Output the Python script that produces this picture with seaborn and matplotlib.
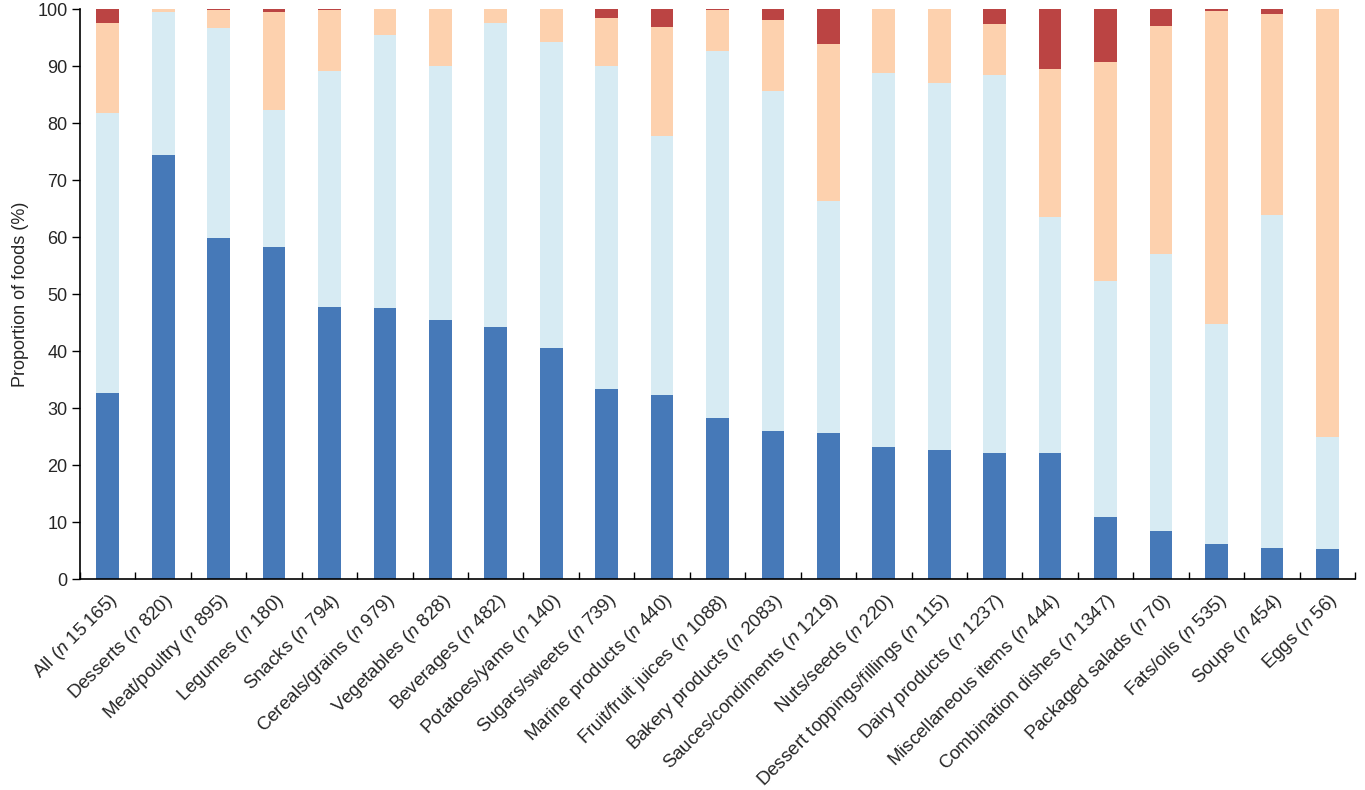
import matplotlib
matplotlib.use("Agg")
import matplotlib.pyplot as plt
import seaborn as sns
import numpy as np
import pandas as pd

categories = [
    "All ($\\it{n}$ 15\u2009165)", "Desserts ($\\it{n}$ 820)", "Meat/poultry ($\\it{n}$ 895)",
    "Legumes ($\\it{n}$ 180)", "Snacks ($\\it{n}$ 794)", "Cereals/grains ($\\it{n}$ 979)",
    "Vegetables ($\\it{n}$ 828)", "Beverages ($\\it{n}$ 482)", "Potatoes/yams ($\\it{n}$ 140)",
    "Sugars/sweets ($\\it{n}$ 739)", "Marine products ($\\it{n}$ 440)", "Fruit/fruit juices ($\\it{n}$ 1088)",
    "Bakery products ($\\it{n}$ 2083)", "Sauces/condiments ($\\it{n}$ 1219)", "Nuts/seeds ($\\it{n}$ 220)",
    "Dessert toppings/fillings ($\\it{n}$ 115)", "Dairy products ($\\it{n}$ 1237)",
    "Miscellaneous items ($\\it{n}$ 444)", "Combination dishes ($\\it{n}$ 1347)",
    "Packaged salads ($\\it{n}$ 70)", "Fats/oils ($\\it{n}$ 535)", "Soups ($\\it{n}$ 454)", "Eggs ($\\it{n}$ 56)",
]
seg_dark_blue = [32.7, 74.4, 59.8, 58.2, 47.8, 47.6, 45.5, 44.2, 40.6, 33.4, 32.3, 28.3,
                 25.9, 25.6, 23.2, 22.6, 22.2, 22.2, 10.9, 8.4, 6.1, 5.4, 5.2]
seg_light_blue = [49.0, 25.1, 36.9, 24.1, 41.3, 47.9, 44.6, 53.3, 53.6, 56.7, 45.5, 64.3,
                  59.8, 40.8, 65.5, 64.5, 66.3, 41.3, 41.4, 48.7, 38.7, 58.5, 19.8]
seg_peach = [15.9, 0.5, 3.1, 17.2, 10.8, 4.5, 9.9, 2.5, 5.8, 8.3, 19.1, 7.3,
             12.3, 27.4, 11.3, 12.9, 8.9, 26.0, 38.5, 40.0, 54.9, 35.2, 75.0]
seg_red = [2.4, 0.0, 0.2, 0.5, 0.1, 0.0, 0.0, 0.0, 0.0, 1.6, 3.1, 0.1,
           2.0, 6.2, 0.0, 0.0, 2.6, 10.5, 9.2, 2.9, 0.3, 0.9, 0.0]

colors = ["#4679b8", "#d7ebf3", "#fdd1ae", "#bb4443"]

sns.set_theme(style="white")
plt.rcParams["font.family"] = ["Liberation Sans", "DejaVu Sans"]
plt.rcParams["mathtext.fontset"] = "custom"
plt.rcParams["mathtext.rm"] = "Liberation Sans"
plt.rcParams["mathtext.it"] = "Liberation Sans:italic"

segs = np.array([seg_dark_blue, seg_light_blue, seg_peach, seg_red])
cum = np.cumsum(segs, axis=0)

fig = plt.figure(figsize=(13.65, 7.9), dpi=100)
ax = fig.add_axes([0.0586, 0.267, 0.9341, 0.7215])

# draw from top layer down so lower segments overlay
for level in range(3, -1, -1):
    df = pd.DataFrame({"cat": categories, "val": cum[level]})
    sns.barplot(data=df, x="cat", y="val", order=categories, color=colors[level],
                saturation=1, width=0.41, edgecolor="none", linewidth=0, ax=ax)

ax.set_xlim(-0.5, len(categories) - 0.5)
ax.set_ylim(0, 100)
ax.set_yticks(np.arange(0, 101, 10))
ax.set_ylabel("Proportion of foods (%)", fontsize=13, labelpad=6)
ax.set_xlabel("")
ax.set_xticks(range(len(categories)))
ax.set_xticklabels(categories, rotation=45, ha="right", rotation_mode="anchor", fontsize=13.5)
ax.set_xticks(np.arange(-0.5, len(categories), 1.0), minor=True)
ax.tick_params(axis="x", which="major", length=0, pad=8)
ax.tick_params(axis="x", which="minor", direction="in", length=5, width=1, color="black", bottom=True)
ax.tick_params(axis="y", which="major", direction="out", length=5.5, width=1, color="black", left=True, labelsize=13)
for s in ["top", "right"]:
    ax.spines[s].set_visible(False)
for s in ["left", "bottom"]:
    ax.spines[s].set_color("black")
    ax.spines[s].set_linewidth(1.2)

fig.savefig("out.png", dpi=100)
